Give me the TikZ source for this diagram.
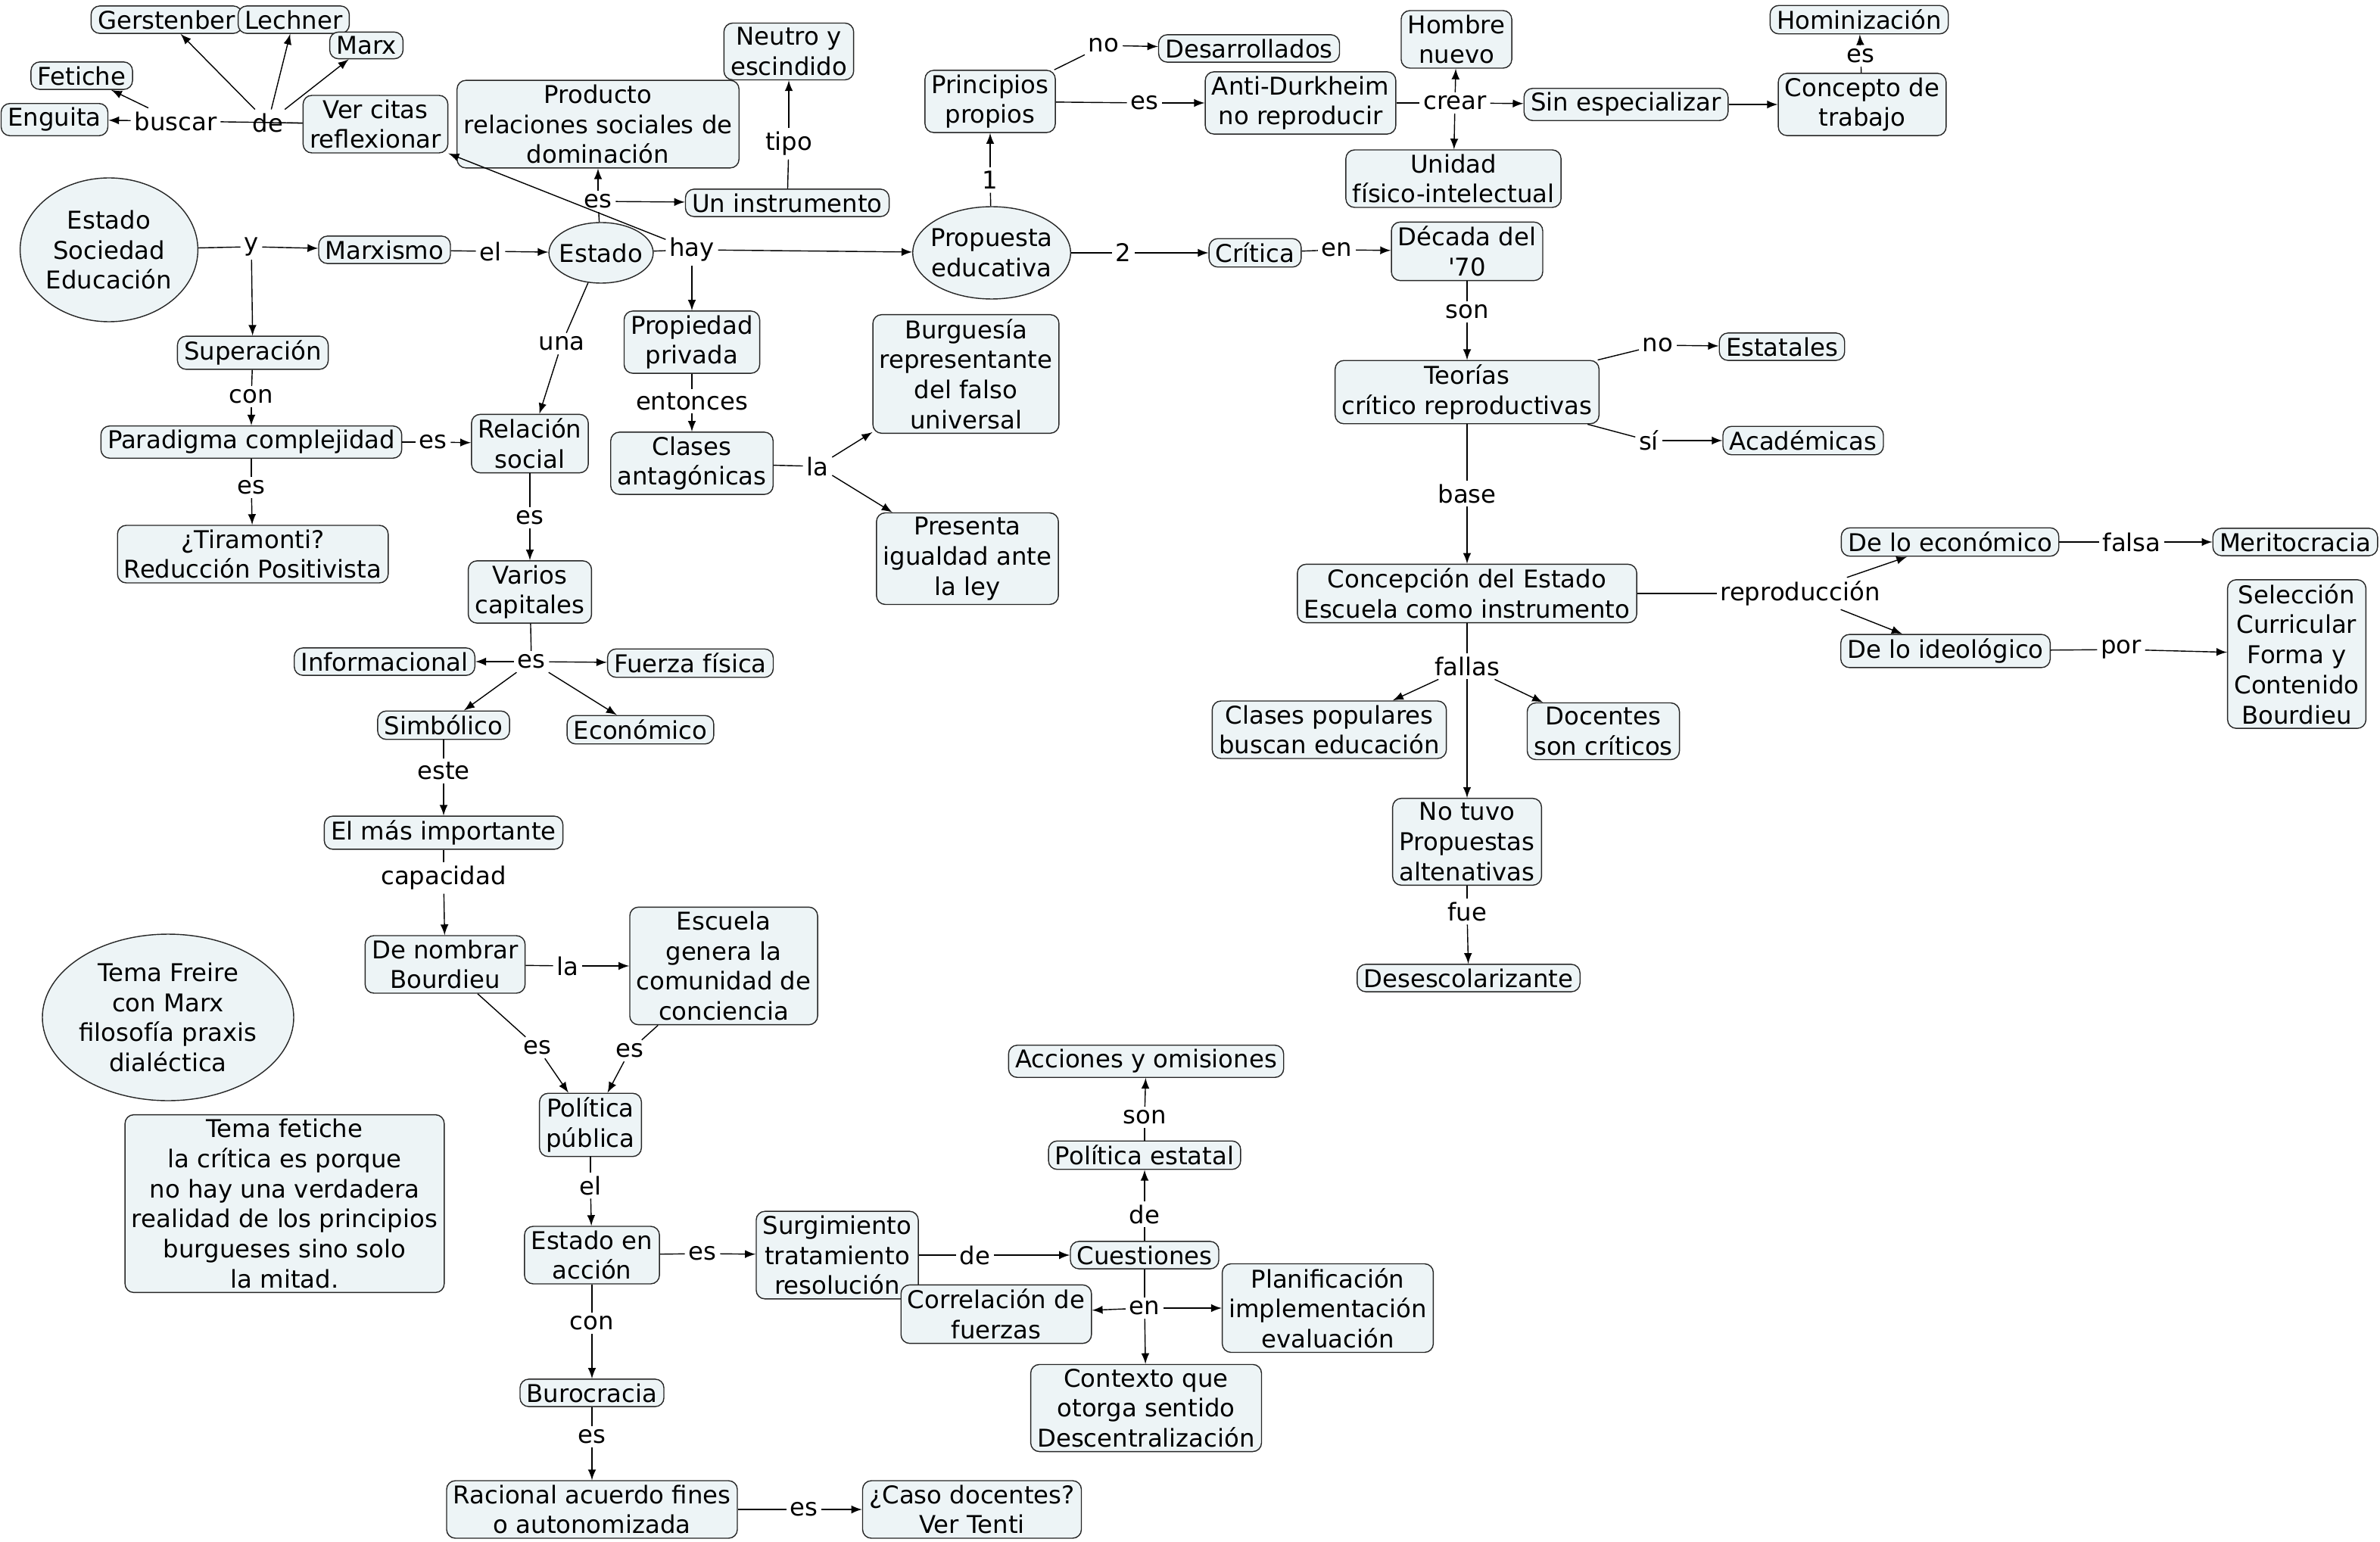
\documentclass[tikz,border=0pt]{standalone}
\usepackage{fontspec}
\setmainfont{DejaVu Sans}
\usepackage{tikz}
\usetikzlibrary{shapes.geometric}
\definecolor{cmapfill}{RGB}{237,244,246}
\tikzset{every node/.style={font=\fontsize{9.2}{11.3}\selectfont},
concept/.style={draw=black!85,rounded corners=0.6ex,fill=cmapfill,align=center,inner xsep=2.5pt,inner ysep=1.6pt},
oval/.style={draw=black!85,ellipse,fill=cmapfill,align=center,inner sep=0pt},
link/.style={align=center,inner sep=1.2pt}}

\begin{document}
\begin{tikzpicture}[x=0.02cm,y=-0.02cm,line width=0.4pt]
\useasboundingbox (-2,-2) rectangle (1570,1016.5);

% Estado y Marxismo
\node (ese) at (70,163) [oval,minimum width=2.32cm,minimum height=1.9cm] {Estado\\Sociedad\\Educación};
\node (y) at (164,161) [link] {y};
\node (marx) at (252,163) [concept] {Marxismo};
\node (el1) at (322,164) [link] {el};
\node (est) at (395,165) [oval,inner xsep=-1.8pt,minimum height=0.8cm] {Estado};
\node (hay) at (455,163) [link] {hay};
\node (es1) at (393,131) [link] {es};
\node (prod) at (393,80) [concept] {Producto\\relaciones sociales de\\dominación};
\node (inst) at (518,132) [concept] {Un instrumento};
\node (tipo) at (519,93) [link] {tipo};
\node (neutro) at (519,32) [concept] {Neutro y\\escindido};
\node (citas) at (246,80) [concept] {Ver citas\\reflexionar};
\node (de1) at (175,79) [link] {de};
\node (buscar) at (114,78) [link] {buscar};
\node (ger) at (108,11) [concept] {Gerstenber};
\node (lech) at (192,11) [concept] {Lechner};
\node (marx2) at (240,28) [concept] {Marx};
\node (fet) at (52,48) [concept] {Fetiche};
\node (engu) at (34,77) [concept] {Enguita};

\node (sup) at (165,231) [concept] {Superación};
\node (con1) at (164,260) [link] {con};
\node (para) at (164,290) [concept] {Paradigma complejidad};
\node (es2) at (284,290) [link] {es};
\node (es3) at (164,320) [link] {es};
\node (tira) at (165,364) [concept] {¿Tiramonti?\\Reducción Positivista};
\node (una) at (369,225) [link] {una};
\node (rel) at (348,291) [concept] {Relación\\social};
\node (es4) at (348,340) [link] {es};
\node (cap) at (348,389) [concept] {Varios\\capitales};
\node (es5) at (349,435) [link] {es};
\node (info) at (252,435) [concept] {Informacional};
\node (fuer) at (454,436) [concept] {Fuerza física};
\node (simb) at (291,477) [concept] {Simbólico};
\node (econ) at (421,480) [concept] {Económico};
\node (este) at (291,507) [link] {este};
\node (imp) at (291,548) [concept] {El más importante};
\node (capac) at (291,578) [link] {capacidad};
\node (nomb) at (292,635) [concept] {De nombrar\\Bourdieu};
\node (la1) at (373,636) [link] {la};
\node (escu) at (476,636) [concept] {Escuela\\genera la\\comunidad de\\conciencia};
\node (es6) at (353,690) [link] {es};
\node (es7) at (414,692) [link] {es};
\node (pol) at (388,741) [concept] {Política\\pública};
\node (el2) at (388,781) [link] {el};
\node (acc) at (389,827) [concept] {Estado en\\acción};
\node (es8) at (462,826) [link] {es};
\node (surg) at (551,827) [concept] {Surgimiento\\tratamiento\\resolución};
\node (de2) at (642,827) [link] {de};
\node (cues) at (754,827) [concept] {Cuestiones};
\node (de3) at (754,800) [link] {de};
\node (pest) at (754,761) [concept] {Política estatal};
\node (son1) at (754,736) [link] {son};
\node (acom) at (755,699) [concept] {Acciones y omisiones};
\node (corr) at (656,866) [concept] {Correlación de\\fuerzas};
\node (en1) at (754,862) [link] {en};
\node (plan) at (875,862) [concept] {Planificación\\implementación\\evaluación};
\node (ctx) at (755,928) [concept] {Contexto que\\otorga sentido\\Descentralización};
\node (con2) at (389,872) [link] {con};
\node (buro) at (389,918) [concept] {Burocracia};
\node (es9) at (389,947) [link] {es};
\node (rac) at (389,995) [concept] {Racional acuerdo fines\\o autonomizada};
\node (es10) at (529,995) [link] {es};
\node (caso) at (640,995) [concept] {¿Caso docentes?\\Ver Tenti};
\node (freire) at (109,670) [oval,minimum width=3.24cm,minimum height=2.2cm] {Tema Freire\\con Marx\\filosofía praxis\\dialéctica};
\node (fetiche) at (186,793) [concept] {Tema fetiche\\la crítica es porque\\no hay una verdadera\\realidad de los principios\\burgueses sino solo\\la mitad.};

% Propiedad privada
\node (prop) at (455,224) [concept] {Propiedad\\privada};
\node (ento) at (455,263) [link] {entonces};
\node (clas) at (455,304) [concept] {Clases\\antagónicas};
\node (la2) at (538,306) [link] {la};
\node (burg) at (636,245) [concept] {Burguesía\\representante\\del falso\\universal};
\node (pres) at (637,367) [concept] {Presenta\\igualdad ante\\la ley};

% Propuesta educativa
\node (pe) at (653,165) [oval,inner xsep=-2pt,minimum height=1.22cm] {Propuesta\\educativa};
\node (uno) at (652,117) [link] {1};
\node (princ) at (652,65) [concept] {Principios\\propios};
\node (no1) at (727,28) [link] {no};
\node (desa) at (823,30) [concept] {Desarrollados};
\node (es11) at (754,66) [link] {es};
\node (anti) at (857,66) [concept] {Anti-Durkheim\\no reproducir};
\node (crear) at (959,66) [link] {crear};
\node (hombre) at (960,24) [concept] {Hombre\\nuevo};
\node (unid) at (958,116) [concept] {Unidad\\físico-intelectual};
\node (sinesp) at (1072,67) [concept] {Sin especializar};
\node (trab) at (1228,67) [concept] {Concepto de\\trabajo};
\node (es12) at (1227,35) [link] {es};
\node (homin) at (1226,11) [concept] {Hominización};
\node (dos) at (740,165) [link] {2};
\node (crit) at (827,165) [concept] {Crítica};
\node (en2) at (881,163) [link] {en};
\node (dec) at (967,164) [concept] {Década del\\\textquotesingle 70};
\node (son2) at (967,204) [link] {son};
\node (teo) at (967,257) [concept] {Teorías\\crítico reproductivas};
\node (no2) at (1093,226) [link] {no};
\node (esta) at (1175,227) [concept] {Estatales};
\node (si) at (1087,289) [link] {sí};
\node (acad) at (1189,289) [concept] {Académicas};
\node (base) at (967,324) [link] {base};
\node (conc) at (967,390) [concept] {Concepción del Estado\\Escuela como instrumento};
\node (repr) at (1187,390) [link] {reproducción};
\node (deec) at (1286,356) [concept] {De lo económico};
\node (falsa) at (1406,356) [link] {falsa};
\node (merit) at (1514,356) [concept] {Meritocracia};
\node (deid) at (1283,428) [concept] {De lo ideológico};
\node (por) at (1399,427) [link] {por};
\node (sel) at (1515,430) [concept] {Selección\\Curricular\\Forma y\\Contenido\\Bourdieu};
\node (fallas) at (967,438) [link] {fallas};
\node (clpop) at (876,480) [concept] {Clases populares\\buscan educación};
\node (doc) at (1057,481) [concept] {Docentes\\son críticos};
\node (notuvo) at (967,554) [concept] {No tuvo\\Propuestas\\altenativas};
\node (fue) at (967,600) [link] {fue};
\node (desesc) at (968,644) [concept] {Desescolarizante};

\draw (ese) -- (y);
\draw[-latex] (y) -- (marx);
\draw[-latex] (y) -- (sup);
\draw (marx) -- (el1);
\draw[-latex] (el1) -- (est);
\draw (est) -- (es1);
\draw[-latex] (es1) -- (prod);
\draw[-latex] (es1) -- (inst);
\draw (inst) -- (tipo);
\draw[-latex] (tipo) -- (neutro);
\draw (est) -- (hay);
\draw[-latex] (hay) -- (pe);
\draw[-latex] (hay) -- (prop);
\draw[-latex] (hay) -- (citas.south east);
\draw (citas) -- (buscar);
\draw (citas) -- (de1);
\foreach \t in {ger,lech,marx2} {
\draw[-latex] (de1) -- (\t);
}
\foreach \t in {fet,engu} {
\draw[-latex] (buscar) -- (\t);
}

\draw (sup) -- (con1);
\draw[-latex] (con1) -- (para);
\draw (para) -- (es2);
\draw[-latex] (es2) -- (rel);
\draw (para) -- (es3);
\draw[-latex] (es3) -- (tira);
\draw (est) -- (una);
\draw[-latex] (una) -- (rel);
\draw (rel) -- (es4);
\draw[-latex] (es4) -- (cap);
\draw (cap) -- (es5);
\foreach \t in {info,fuer,simb,econ} {
\draw[-latex] (es5) -- (\t);
}
\draw (simb) -- (este);
\draw[-latex] (este) -- (imp);
\draw (imp) -- (capac);
\draw[-latex] (capac) -- (nomb);
\draw (nomb) -- (la1);
\draw[-latex] (la1) -- (escu);
\draw (nomb) -- (es6);
\draw[-latex] (es6) -- (pol);
\draw (escu) -- (es7);
\draw[-latex] (es7) -- (pol);
\draw (pol) -- (el2);
\draw[-latex] (el2) -- (acc);
\draw (acc) -- (es8);
\draw[-latex] (es8) -- (surg);
\draw (surg) -- (de2);
\draw[-latex] (de2) -- (cues);
\draw (cues) -- (de3);
\draw[-latex] (de3) -- (pest);
\draw (pest) -- (son1);
\draw[-latex] (son1) -- (acom);
\draw (cues) -- (en1);
\foreach \t in {corr,plan,ctx} {
\draw[-latex] (en1) -- (\t);
}
\draw (acc) -- (con2);
\draw[-latex] (con2) -- (buro);
\draw (buro) -- (es9);
\draw[-latex] (es9) -- (rac);
\draw (rac) -- (es10);
\draw[-latex] (es10) -- (caso);

\draw (prop) -- (ento);
\draw[-latex] (ento) -- (clas);
\draw (clas) -- (la2);
\draw[-latex] (la2) -- (burg);
\draw[-latex] (la2) -- (pres);

\draw (pe) -- (uno);
\draw[-latex] (uno) -- (princ);
\draw (princ) -- (no1);
\draw[-latex] (no1) -- (desa);
\draw (princ) -- (es11);
\draw[-latex] (es11) -- (anti);
\draw (anti) -- (crear);
\foreach \t in {hombre,unid,sinesp} {
\draw[-latex] (crear) -- (\t);
}
\draw[-latex] (sinesp) -- (trab);
\draw (trab) -- (es12);
\draw[-latex] (es12) -- (homin);
\draw (pe) -- (dos);
\draw[-latex] (dos) -- (crit);
\draw (crit) -- (en2);
\draw[-latex] (en2) -- (dec);
\draw (dec) -- (son2);
\draw[-latex] (son2) -- (teo);
\draw (teo) -- (no2);
\draw[-latex] (no2) -- (esta);
\draw (teo) -- (si);
\draw[-latex] (si) -- (acad);
\draw (teo) -- (base);
\draw[-latex] (base) -- (conc);
\draw (conc) -- (repr);
\draw[-latex] (repr) -- (deec);
\draw[-latex] (repr) -- (deid);
\draw (deec) -- (falsa);
\draw[-latex] (falsa) -- (merit);
\draw (deid) -- (por);
\draw[-latex] (por) -- (sel);
\draw (conc) -- (fallas);
\foreach \t in {clpop,doc,notuvo} {
\draw[-latex] (fallas) -- (\t);
}
\draw (notuvo) -- (fue);
\draw[-latex] (fue) -- (desesc);

\end{tikzpicture}
\end{document}
